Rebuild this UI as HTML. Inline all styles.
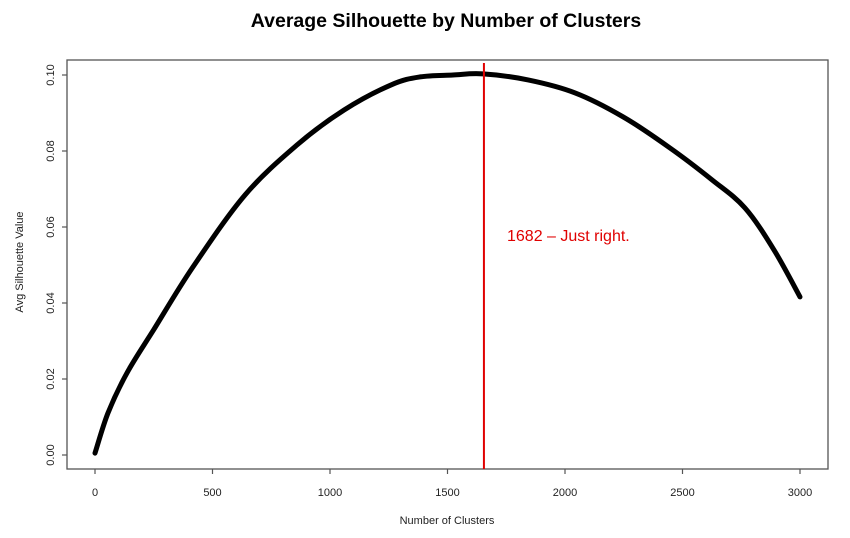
<!DOCTYPE html>
<html><head><meta charset="utf-8"><style>
html,body{margin:0;padding:0;background:#fff;}
svg{display:block;font-family:"Liberation Sans",Arial,sans-serif;}
</style></head><body>
<svg id="chart" width="850" height="538" viewBox="0 0 850 538">
<text x="446" y="27" text-anchor="middle" font-size="19.5" font-weight="bold" fill="#000">Average Silhouette by Number of Clusters</text>
<rect x="67" y="60" width="761" height="409" fill="none" stroke="#555" stroke-width="1.3"/>
<g id="xaxis"></g>
<g id="yaxis"></g>
<text x="447" y="524" text-anchor="middle" font-size="11" fill="#222">Number of Clusters</text>
<text transform="translate(23,262) rotate(-90)" text-anchor="middle" font-size="11" fill="#222">Avg Silhouette Value</text>
<g id="series"></g>
<text x="507" y="241" font-size="16" fill="#e00000">1682 – Just right.</text>
</svg>
<script>
const clusters = [0, 55, 136, 250, 417, 638, 860, 1060, 1260, 1383, 1523, 1651, 1843, 2043, 2247, 2447, 2626, 2766, 2889, 3000];
const silhouette = [0.0005, 0.011, 0.0216, 0.033, 0.0495, 0.0684, 0.0816, 0.0908, 0.0974, 0.0995, 0.1, 0.1003, 0.0987, 0.0953, 0.089, 0.0808, 0.0724, 0.065, 0.054, 0.0416];
const xTicks = [0, 500, 1000, 1500, 2000, 2500, 3000];
const yTicks = [0.00, 0.02, 0.04, 0.06, 0.08, 0.10];
const yTickLabels = ["0.00", "0.02", "0.04", "0.06", "0.08", "0.10"];
const markerValue = [1655];

const NS = "http://www.w3.org/2000/svg";
function xs(v){ return 95 + v * (705 / 3000); }
function ys(v){ return 455 - v * 3800; }
function mk(tag, attrs, parent){ const e = document.createElementNS(NS, tag); for (const k in attrs) e.setAttribute(k, attrs[k]); parent.appendChild(e); return e; }

const xa = document.getElementById('xaxis');
xTicks.forEach(t => {
  const l = mk('line', {x1: xs(t), x2: xs(t), y1: 469, y2: 474, stroke: '#555', 'stroke-width': 1.2}, xa);
  
  
  const tx = mk('text', {x: xs(t), y: 496, 'text-anchor': 'middle', 'font-size': 11, fill: '#222'}, xa);
  tx.textContent = t;
  
  
});
const ya = document.getElementById('yaxis');
yTicks.forEach((t, i) => {
  const l = mk('line', {x1: 62, x2: 67, y1: ys(t), y2: ys(t), stroke: '#555', 'stroke-width': 1.2}, ya);
  
  
  const tx = mk('text', {transform: 'translate(54,' + ys(t) + ') rotate(-90)', 'text-anchor': 'middle', 'font-size': 11, fill: '#222'}, ya);
  tx.textContent = yTickLabels[i];
  
  
});
const sg = document.getElementById('series');
const P = clusters.map((c, i) => [xs(c), ys(silhouette[i])]);
let d = 'M' + P[0][0].toFixed(1) + ',' + P[0][1].toFixed(1);
for (let i = 0; i < P.length - 1; i++) {
  const p0 = P[Math.max(0, i - 1)], p1 = P[i], p2 = P[i + 1], p3 = P[Math.min(P.length - 1, i + 2)];
  const c1 = [p1[0] + (p2[0] - p0[0]) / 6, p1[1] + (p2[1] - p0[1]) / 6];
  const c2 = [p2[0] - (p3[0] - p1[0]) / 6, p2[1] - (p3[1] - p1[1]) / 6];
  d += ' C' + c1[0].toFixed(1) + ',' + c1[1].toFixed(1) + ' ' + c2[0].toFixed(1) + ',' + c2[1].toFixed(1) + ' ' + p2[0].toFixed(1) + ',' + p2[1].toFixed(1);
}
const pl = mk('path', {d: d, fill: 'none', stroke: '#000', 'stroke-width': 5, 'stroke-linejoin': 'round', 'stroke-linecap': 'round'}, sg);


markerValue.forEach(m => {
  const v = mk('line', {x1: xs(m), x2: xs(m), y1: 63, y2: 469, stroke: '#e00000', 'stroke-width': 2}, sg);
  
  
});
</script>
</body></html>
